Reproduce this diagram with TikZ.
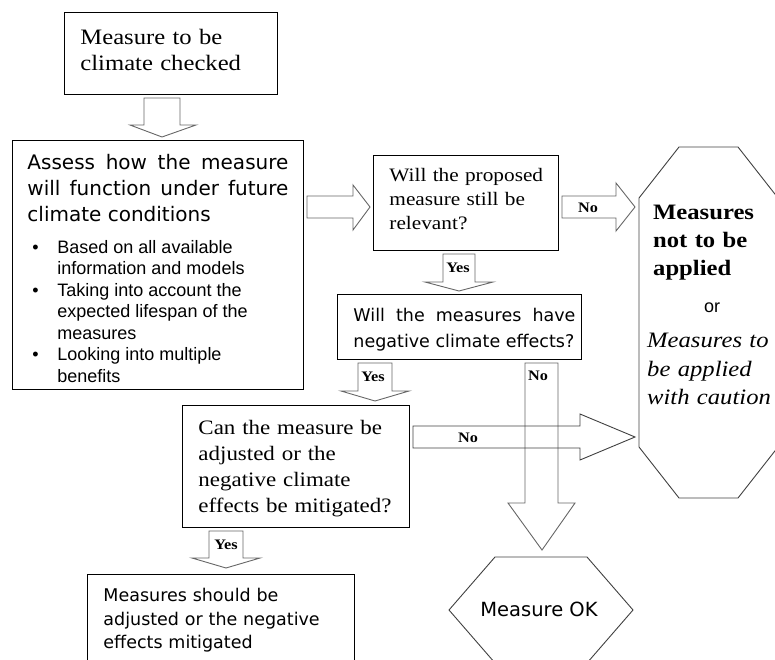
\documentclass[tikz,border=0pt]{standalone}
\usepackage{fontspec}
\setmainfont{Liberation Serif}
\newfontfamily\cam[FakeStretch=1.12]{Liberation Serif}
\newfontfamily\verd{DejaVu Sans}
\newfontfamily\arl{Liberation Sans}
\newcommand{\natsp}{\spaceskip=0pt\xspaceskip=0pt\relax}
\newcommand{\bulitem}{\leavevmode\llap{\makebox[25pt][l]{\textbullet}}}
\newcommand{\tailsp}[1]{\par\vspace{#1}\hrule height 0pt width 0pt\relax}
\begin{document}
\begin{tikzpicture}[x=1pt,y=-1pt,
  box/.style={draw=black, line width=0.9pt, rectangle, inner ysep=0pt, align=left, anchor=north west},
  blk/.style={draw=black!60, line width=0.9pt, line join=miter},
  lbl/.style={font=\cam\bfseries\fontsize{14.5}{14.5}\selectfont, inner sep=0pt, text=black}]
\useasboundingbox (0,0) rectangle (775,660);

% ---------- boxes ----------
\node[box, inner xsep=16pt, text width=181pt, minimum height=82pt,
      font=\cam\fontsize{22}{26}\selectfont] (b1) at (64,12)
  {\mbox{Measure to be}\\\mbox{climate checked}\tailsp{6pt}};

\node[box, inner xsep=15pt, text width=261pt, minimum height=249pt,
      font=\verd\fontsize{20}{26}\selectfont] (b2) at (12,140)
  {{\natsp
    \makebox[261pt][s]{Assess how the measure}\par
    \makebox[261pt][s]{will function under future}\par
    climate conditions\par}
   \vspace{10pt}
   {\arl\fontsize{18}{21.5}\selectfont\natsp\leftskip=30pt
    \bulitem Based on all available\\information and models\par
    \bulitem Taking into account the\\expected lifespan of the\\measures\par
    \bulitem Looking into multiple\\benefits\par}
   \tailsp{-7pt}};

\node[box, inner xsep=16pt, text width=153pt, minimum height=95pt,
      font=\cam\fontsize{19}{24}\selectfont] (b3) at (373,155)
  {\mbox{Will the proposed}\\\mbox{measure still be}\\\mbox{relevant?}\tailsp{8pt}};

\node[box, inner xsep=11pt, text width=222pt, minimum height=65pt,
      font=\verd\fontsize{17.5}{26}\selectfont] (b4) at (337,294)
  {\natsp\hspace*{5pt}\makebox[222pt][s]{Will the measures have}\\\hspace*{5pt}\mbox{negative climate effects?}\tailsp{-6pt}};

\node[box, inner xsep=16pt, text width=195pt, minimum height=122pt,
      font=\cam\fontsize{20.5}{26}\selectfont] (b5) at (182,405)
  {\mbox{Can the measure be}\\\mbox{adjusted or the}\\\mbox{negative climate}\\\mbox{effects be mitigated?}\tailsp{-4pt}};

\node[box, inner xsep=16pt, text width=235pt, minimum height=92pt,
      font=\verd\fontsize{17.5}{23.5}\selectfont] (b6) at (87,574)
  {\mbox{Measures should be}\\\mbox{adjusted or the negative}\\\mbox{effects mitigated}};

% ---------- octagon ----------
\draw[draw=black!75, line width=0.9pt] (639,198) -- (679,147) -- (738,147) -- (778,198)
  -- (778,447) -- (738,498) -- (679,498) -- (639,447) -- cycle;
\node[anchor=north west, inner sep=0pt, text width=125pt, align=left,
      font=\cam\bfseries\fontsize{22}{28}\selectfont] (oct1) at (653,205)
  {Measures\\not to be\\applied};
\node[anchor=base, inner sep=0pt, font=\arl\fontsize{18}{20}\selectfont] (oct2) at (712,312) {or};
\node[anchor=north west, inner sep=0pt, text width=130pt, align=left,
      font=\cam\itshape\fontsize{22}{28.5}\selectfont] (oct3) at (647,333)
  {\mbox{Measures to}\\\mbox{be applied}\\\mbox{with caution}};

% ---------- hexagon ----------
\draw[draw=black!75, line width=0.9pt] (449,610) -- (495,557) -- (587,557) -- (633,610)
  -- (587,663) -- (495,663) -- cycle;
\node[inner sep=0pt, font=\verd\fontsize{19.5}{22}\selectfont] (ok) at (539,609) {Measure OK};

% ---------- block arrows ----------
% b1 -> b2
\draw[blk] (144,98) -- (180,98) -- (180,125) -- (196,125) -- (162,137) -- (130,125) -- (144,125) -- cycle;
% b2 -> b3
\draw[blk] (307,196) -- (353,196) -- (353,185) -- (370,207) -- (353,230) -- (353,218) -- (307,218) -- cycle;
% b3 -> octagon (No)
\draw[blk] (562,196) -- (616,196) -- (616,183) -- (635,207) -- (616,231) -- (616,218) -- (562,218) -- cycle;
% b3 -> b4 (Yes)
\draw[blk] (443,254) -- (475,254) -- (475,282) -- (493,282) -- (459,291) -- (425,282) -- (443,282) -- cycle;
% b4 -> b5 (Yes)
\draw[blk] (358,363) -- (392,363) -- (392,391) -- (409,391) -- (375,401) -- (341,391) -- (358,391) -- cycle;
% b4 -> Measure OK (No)
\draw[blk] (525,363) -- (558,363) -- (558,503) -- (575,503) -- (542,550) -- (508,503) -- (525,503) -- cycle;
% b5 -> octagon (No)
\draw[blk, draw=black!75] (413,426) -- (580,426) -- (580,414) -- (635,437) -- (580,460) -- (580,448) -- (413,448) -- cycle;
% b5 -> b6 (Yes)
\draw[blk] (209,531) -- (243,531) -- (243,558) -- (260,558) -- (226,568) -- (192,558) -- (209,558) -- cycle;

% ---------- labels ----------
\node[lbl] (l1) at (588,208) {No};
\node[lbl] (l2) at (458,268) {Yes};
\node[lbl] (l3) at (373,377) {Yes};
\node[lbl] (l4) at (538,376) {No};
\node[lbl] (l5) at (468,438) {No};
\node[lbl] (l6) at (226,545) {Yes};
\end{tikzpicture}
\end{document}
